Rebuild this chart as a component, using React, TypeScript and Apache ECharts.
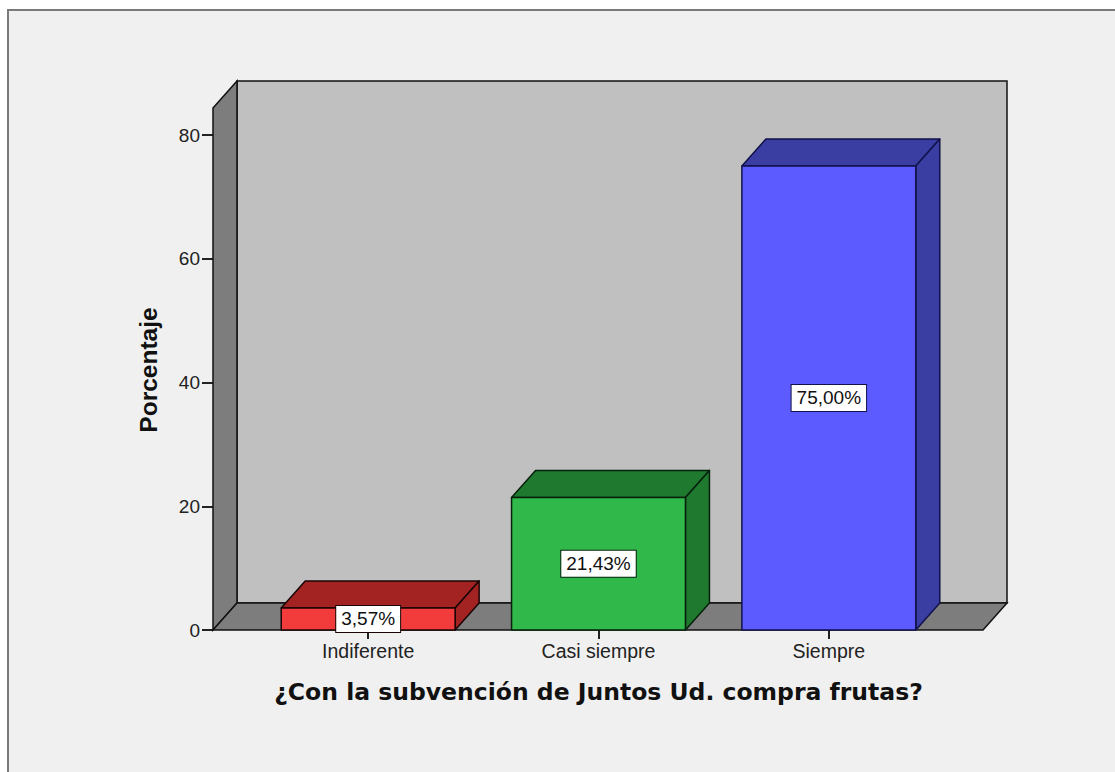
import React, { useEffect, useRef } from "react";
import * as echarts from "echarts";

// ---- data ----
const categories = ["Indiferente", "Casi siempre", "Siempre"];
const percentages = [3.57, 21.43, 75.0];
const valueLabels = ["3,57%", "21,43%", "75,00%"];
const yTickMin = 0;
const yTickMax = 80;
const yTickStep = 20;
const xTitle = "¿Con la subvención de Juntos Ud. compra frutas?";
const yTitle = "Porcentaje";

// ---- styles ----
const frontColors = ["#f23b3b", "#30b84a", "#5b5bff"];
const darkColors = ["#a32222", "#1f7a30", "#3a3ea2"];
const edgeColors = ["#1a0505", "#06200b", "#12124a"];

// ---- layout ----
const W = 1115;
const H = 772;
const GRID_LEFT = 253;
const GRID_RIGHT = 171;
const GRID_TOP = 135;
const FLOOR_Y = 630;
const GRID_BOTTOM = H - FLOOR_Y;
const WALL_LEFT = 213;
const WALL_RIGHT = 983;
const WALL_TOP = 108;
const DX = 24;
const DY = 27;
const BAR_RATIO = 0.755;

export default function App() {
  const ref = useRef<HTMLDivElement>(null);

  useEffect(() => {
    if (!ref.current) return;
    const chart = echarts.init(ref.current, undefined, { renderer: "svg" });
    const tickFont = '"Liberation Sans", Arial, sans-serif';

    const option: any = {
      animation: false,
      backgroundColor: "#ffffff",
      grid: { left: GRID_LEFT, right: GRID_RIGHT, top: GRID_TOP, bottom: GRID_BOTTOM },
      graphic: [
        {
          type: "rect",
          z: -5,
          shape: { x: 8, y: 10, width: 1300, height: 900 },
          style: { fill: "#f0f0f0", stroke: "#7a7a7a", lineWidth: 2 },
        },
        {
          type: "rect",
          z: 1,
          shape: {
            x: WALL_LEFT + DX,
            y: WALL_TOP - DY,
            width: WALL_RIGHT - WALL_LEFT,
            height: FLOOR_Y - WALL_TOP,
          },
          style: { fill: "#c0c0c0", stroke: "#111", lineWidth: 1.5 },
        },
        {
          type: "polygon",
          z: 1,
          shape: {
            points: [
              [WALL_LEFT, WALL_TOP],
              [WALL_LEFT + DX, WALL_TOP - DY],
              [WALL_LEFT + DX, FLOOR_Y - DY],
              [WALL_LEFT, FLOOR_Y],
            ],
          },
          style: { fill: "#7d7d7d", stroke: "#111", lineWidth: 1.5 },
        },
        {
          type: "polygon",
          z: 1,
          shape: {
            points: [
              [WALL_LEFT, FLOOR_Y],
              [WALL_LEFT + DX, FLOOR_Y - DY],
              [WALL_RIGHT + DX, FLOOR_Y - DY],
              [WALL_RIGHT, FLOOR_Y],
            ],
          },
          style: { fill: "#7d7d7d", stroke: "#111", lineWidth: 1.5 },
        },
        {
          type: "text",
          z: 3,
          x: 148,
          y: 370,
          rotation: Math.PI / 2,
          style: {
            text: yTitle,
            font: 'bold 24.5px "Liberation Sans", Arial, sans-serif',
            fill: "#111",
            align: "center",
            verticalAlign: "middle",
          },
        },
      ],
      xAxis: {
        type: "category",
        data: categories,
        axisLine: { show: false },
        axisTick: { show: true, alignWithLabel: true, length: 9, lineStyle: { color: "#222", width: 2 } },
        axisLabel: { margin: 11, fontSize: 19.5, fontFamily: tickFont, color: "#222" },
        splitLine: { show: false },
        name: xTitle,
        nameLocation: "middle",
        nameGap: 50,
        nameTextStyle: {
          fontFamily: '"DejaVu Sans", Verdana, sans-serif',
          fontWeight: "bold",
          fontSize: 23.5,
          color: "#111",
        },
      },
      yAxis: {
        type: "value",
        min: yTickMin,
        max: yTickMax,
        interval: yTickStep,
        offset: GRID_LEFT - WALL_LEFT,
        axisLine: { show: false },
        axisTick: { show: true, length: 11, lineStyle: { color: "#222", width: 2 } },
        axisLabel: { margin: 13, fontSize: 19, fontFamily: tickFont, color: "#222" },
        splitLine: { show: false },
      },
      series: [
        {
          type: "custom",
          z: 2,
          clip: false,
          encode: { x: 0, y: 1 },
          data: percentages.map((v, i) => [i, v]),
          renderItem: (params: any, api: any) => {
            const i = params.dataIndex;
            const idx = api.value(0);
            const val = api.value(1);
            const top = api.coord([idx, val]);
            const base = api.coord([idx, 0]);
            const w = api.size([1, 0])[0] * BAR_RATIO;
            const x0 = top[0] - w / 2;
            const x1 = top[0] + w / 2;
            const yT = top[1];
            const yB = base[1];
            const edge = { stroke: edgeColors[i], lineWidth: 1.5, lineJoin: "round" };
            return {
              type: "group",
              children: [
                {
                  type: "polygon",
                  shape: {
                    points: [
                      [x0, yT],
                      [x0 + DX, yT - DY],
                      [x1 + DX, yT - DY],
                      [x1, yT],
                    ],
                  },
                  style: { fill: darkColors[i], ...edge },
                },
                {
                  type: "polygon",
                  shape: {
                    points: [
                      [x1, yT],
                      [x1 + DX, yT - DY],
                      [x1 + DX, yB - DY],
                      [x1, yB],
                    ],
                  },
                  style: { fill: darkColors[i], ...edge },
                },
                {
                  type: "rect",
                  shape: { x: x0, y: yT, width: w, height: yB - yT },
                  style: { fill: frontColors[i], ...edge },
                },
                {
                  type: "text",
                  x: top[0],
                  y: (yT + yB) / 2,
                  style: {
                    text: valueLabels[i],
                    font: '19px "Liberation Sans", Arial, sans-serif',
                    fill: "#111",
                    align: "center",
                    verticalAlign: "middle",
                    backgroundColor: "#ffffff",
                    borderColor: edgeColors[i],
                    borderWidth: 1,
                    padding: [4, 5, 3, 5],
                  },
                },
              ],
            };
          },
        },
      ],
    };

    chart.setOption(option);
    return () => chart.dispose();
  }, []);

  return (
    <div
      ref={ref}
      style={{ position: "fixed", left: 0, top: 0, width: W, height: H }}
    />
  );
}
